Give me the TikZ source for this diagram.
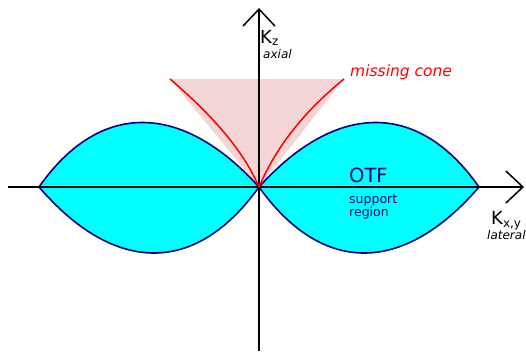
\documentclass[tikz,border=0pt]{standalone}
\usepackage{fontspec}
\setmainfont{DejaVu Sans}
\usetikzlibrary{arrows.meta}
\definecolor{otfcyan}{RGB}{0,255,255}
\definecolor{otfnavy}{RGB}{0,0,128}
\definecolor{conepink}{RGB}{243,213,213}
\newcommand{\sz}[1]{\fontsize{#1}{#1}\selectfont}

\begin{document}
\begin{tikzpicture}[x=1pt,y=-1pt,line join=round,
  axis/.style={line width=1.5pt,-{Straight Barb[length=17pt,width=32pt]}},
  lobe/.style={fill=otfcyan,draw=otfnavy,line width=1.6pt},
  conecurve/.style={red,line width=1.5pt},
  lbl/.style={inner sep=0pt,anchor=base west}]
  \useasboundingbox (0,0) rectangle (526,351);
  \coordinate (origin) at (259,187);
  \coordinate (zlow) at (259,351);
  \coordinate (ztop) at (259,8);
  \coordinate (xleft) at (8,187);
  \coordinate (xright) at (524,187);
  \coordinate (coneL) at (170,79);
  \coordinate (coneR) at (344,79);
  % missing cone
  \fill[conepink] (origin) -- (coneL) -- (coneR) -- cycle;
  % OTF support
  \draw[lobe] (39,187) .. controls (100,100) and (182,102) .. (origin)
    .. controls (196,275) and (115,275) .. (39,187) -- cycle;
  \draw[lobe] (479,187) .. controls (418,100) and (336,102) .. (origin)
    .. controls (322,275) and (403,275) .. (479,187) -- cycle;
  % axes
  \draw[axis] (xleft) -- (xright);
  \draw[axis] (zlow) -- (ztop);
  \draw[conecurve] (origin) .. controls (275,150) and (300,115) .. (coneR);
  \draw[conecurve] (origin) .. controls (243,150) and (212,115) .. (coneL);
  % labels
  \node[lbl] (kz) at (260,43) {\sz{18}K\raisebox{-2pt}{\sz{12}z}};
  \node[lbl] (axial) at (263,58) {\sz{12}\itshape axial};
  \node[lbl,red] (cone) at (350,76) {\sz{15.5}\itshape missing cone};
  \node[lbl,otfnavy] (otf) at (349,182) {\sz{19.5}OTF};
  \node[lbl,otfnavy,align=left,font=\sz{12.5}] (support) at (349,216)
    {support\\region};
  \node[lbl] (kxy) at (491,224) {\sz{18}K\raisebox{-3pt}{\sz{12}x,y}};
  \node[lbl] (lateral) at (487,239) {\sz{12}\itshape lateral};
\end{tikzpicture}
\end{document}
